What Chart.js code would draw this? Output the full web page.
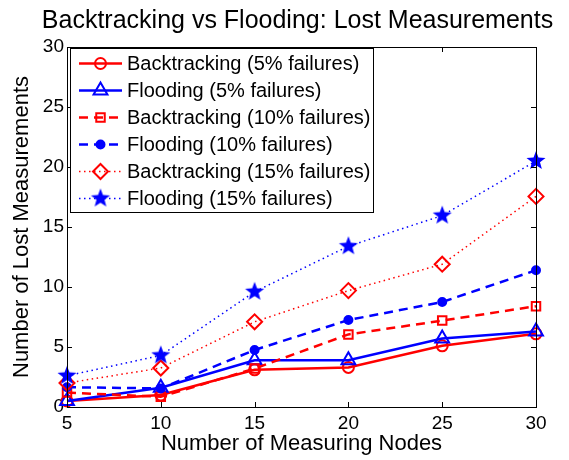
<!DOCTYPE html>
<html>
<head>
<meta charset="utf-8">
<title>Backtracking vs Flooding: Lost Measurements</title>
<script src="https://cdn.jsdelivr.net/npm/chart.js@4.4.1/dist/chart.umd.min.js"></script>
<style>
    html, body { margin: 0; padding: 0; background: #fff; }
    #wrap { width: 569px; height: 460px; }
</style>
</head>
<body>
<div id="wrap"><canvas id="lostChart" width="569" height="460"></canvas></div>
<script>
// chart data
const chartTitle = 'Backtracking vs Flooding: Lost Measurements';
const nodes = [5, 10, 15, 20, 25, 30];
const yTicks = [0, 5, 10, 15, 20, 25, 30];
const seriesNames = [
    'Backtracking (5% failures)',
    'Flooding (5% failures)',
    'Backtracking (10% failures)',
    'Flooding (10% failures)',
    'Backtracking (15% failures)',
    'Flooding (15% failures)',
];
const backtrack5 = [0.5, 1.0, 3.1, 3.3, 5.1, 6.1];
const flood5 = [0.5, 1.6, 3.9, 3.9, 5.7, 6.3];
const backtrack10 = [1.2, 0.85, 3.2, 6.05, 7.2, 8.4];
const flood10 = [1.65, 1.55, 4.75, 7.25, 8.75, 11.4];
const backtrack15 = [2.0, 3.25, 7.1, 9.7, 11.9, 17.55];
const flood15 = [2.6, 4.3, 9.6, 13.4, 15.95, 20.5];

const RED = '#ff0000';
const BLUE = '#0000ff';
const FONT = '"Liberation Sans", Arial, Helvetica, sans-serif';

// filled five-point star marker
function makeStar(r) {
    const size = Math.ceil(r * 2 + 2);
    const c = document.createElement('canvas');
    c.width = size;
    c.height = size;
    const g = c.getContext('2d');
    g.fillStyle = BLUE;
    g.beginPath();
    for (let i = 0; i < 10; i++) {
        const rad = i % 2 === 0 ? r : r * 0.42;
        const a = -Math.PI / 2 + (i * Math.PI) / 5;
        g.lineTo(size / 2 + rad * Math.cos(a), size / 2 + rad * Math.sin(a));
    }
    g.closePath();
    g.fill();
    return c;
}
const starImg = makeStar(10);

function toPoints(values) {
    return values.map((v, i) => ({ x: nodes[i], y: v }));
}

function series(idx, values, color, dash, width, style, radius, fill) {
    return {
        label: seriesNames[idx],
        data: toPoints(values),
        borderColor: color,
        borderWidth: width,
        borderDash: dash,
        pointStyle: style,
        pointRadius: radius,
        pointHoverRadius: radius,
        pointBorderColor: color,
        pointBackgroundColor: fill ? color : 'rgba(0,0,0,0)',
        pointBorderWidth: 2,
        tension: 0,
        fill: false,
        clip: false,
        order: 6 - idx,
    };
}

const datasets = [
    series(0, backtrack5, RED, [], 2.5, 'circle', 5.5, false),
    series(1, flood5, BLUE, [], 2.5, 'triangle', 8, false),
    series(2, backtrack10, RED, [9, 6], 2.5, 'rect', 6, false),
    series(3, flood10, BLUE, [9, 6], 2.5, 'circle', 4, true),
    series(4, backtrack15, RED, [1.5, 3.5], 1.5, 'rectRot', 7.5, false),
    series(5, flood15, BLUE, [1.5, 3.5], 1.5, starImg, 10, true),
];

// marker drawing for the legend
function drawMarker(ctx, ds, x, y) {
    const r = ds.pointRadius;
    ctx.save();
    ctx.setLineDash([]);
    ctx.lineWidth = ds.pointBorderWidth;
    ctx.strokeStyle = ds.pointBorderColor;
    ctx.fillStyle = ds.pointBackgroundColor;
    const s = ds.pointStyle;
    if (s instanceof HTMLCanvasElement) {
        ctx.drawImage(s, x - s.width / 2, y - s.height / 2);
        ctx.restore();
        return;
    }
    ctx.beginPath();
    if (s === 'circle') {
        ctx.arc(x, y, r, 0, Math.PI * 2);
    } else if (s === 'triangle') {
        for (let i = 0; i < 3; i++) {
            const a = (i * 2 * Math.PI) / 3;
            ctx.lineTo(x + Math.sin(a) * r, y - Math.cos(a) * r);
        }
        ctx.closePath();
    } else if (s === 'rect') {
        const h = Math.SQRT1_2 * r;
        ctx.rect(x - h, y - h, 2 * h, 2 * h);
    } else if (s === 'rectRot') {
        ctx.moveTo(x, y - r);
        ctx.lineTo(x + r, y);
        ctx.lineTo(x, y + r);
        ctx.lineTo(x - r, y);
        ctx.closePath();
    }
    ctx.fill();
    ctx.stroke();
    ctx.restore();
}

// axes box with inward ticks, title over the plot area, legend inside
const boxPlugin = {
    id: 'matlabBox',
    afterDatasetsDraw(chart) {
        const { ctx, chartArea: a, scales } = chart;
        ctx.save();
        ctx.strokeStyle = '#000';
        ctx.lineWidth = 1;
        ctx.setLineDash([]);
        ctx.strokeRect(a.left + 0.5, a.top + 0.5, a.right - a.left, a.bottom - a.top);
        const tl = 5;
        ctx.beginPath();
        nodes.forEach((v) => {
            const px = Math.round(scales.x.getPixelForValue(v)) + 0.5;
            ctx.moveTo(px, a.bottom);
            ctx.lineTo(px, a.bottom - tl);
            ctx.moveTo(px, a.top);
            ctx.lineTo(px, a.top + tl);
        });
        yTicks.forEach((v) => {
            const py = Math.round(scales.y.getPixelForValue(v)) + 0.5;
            ctx.moveTo(a.left, py);
            ctx.lineTo(a.left + tl, py);
            ctx.moveTo(a.right, py);
            ctx.lineTo(a.right - tl, py);
        });
        ctx.stroke();

        // title
        ctx.fillStyle = '#000';
        ctx.font = '25px ' + FONT;
        ctx.textAlign = 'center';
        ctx.textBaseline = 'middle';
        ctx.fillText(chartTitle, (a.left + a.right) / 2 - 4, 21);
        ctx.restore();
    },
    afterDraw(chart) {
        const { ctx, chartArea: a } = chart;
        const left = a.left + 3;
        const top = a.top + 1;
        const w = 303;
        const h = 164;
        ctx.save();
        ctx.fillStyle = '#fff';
        ctx.fillRect(left, top, w, h);
        ctx.strokeStyle = '#000';
        ctx.lineWidth = 1;
        ctx.strokeRect(left + 0.5, top + 0.5, w, h);
        chart.data.datasets.forEach((ds, i) => {
            const y = top + 15.5 + i * 27;
            ctx.save();
            ctx.strokeStyle = ds.borderColor;
            ctx.lineWidth = ds.borderWidth;
            ctx.setLineDash(ds.borderDash);
            ctx.beginPath();
            ctx.moveTo(left + 9, y);
            ctx.lineTo(left + 52, y);
            ctx.stroke();
            ctx.restore();
            drawMarker(ctx, ds, left + 30.5, y);
            ctx.fillStyle = '#000';
            ctx.font = '20px ' + FONT;
            ctx.textBaseline = 'middle';
            ctx.textAlign = 'left';
            ctx.fillText(ds.label, left + 57, y + 1);
        });
        ctx.restore();
    },
};

new Chart(document.getElementById('lostChart'), {
    type: 'line',
    data: { datasets },
    plugins: [boxPlugin],
    options: {
        responsive: false,
        animation: false,
        events: [],
        layout: {
            padding: { left: 0, right: 33, top: 47, bottom: 0 },
        },
        plugins: {
            legend: { display: false },
            tooltip: { enabled: false },
            title: { display: false },
        },
        scales: {
            x: {
                type: 'linear',
                min: 5,
                max: 30,
                afterFit(scale) {
                    scale.height = 53;
                },
                afterBuildTicks(scale) {
                    scale.ticks = nodes.map((v) => ({ value: v }));
                },
                grid: { display: false, drawTicks: false },
                border: { display: false },
                ticks: {
                    color: '#000',
                    padding: 5,
                    maxRotation: 0,
                    font: { family: FONT, size: 19 },
                },
                title: {
                    display: true,
                    text: 'Number of Measuring Nodes',
                    color: '#000',
                    font: { family: FONT, size: 22 },
                    padding: { top: 0, bottom: 3 },
                },
            },
            y: {
                type: 'linear',
                min: 0,
                max: 30,
                afterFit(scale) {
                    scale.width = 67;
                },
                afterBuildTicks(scale) {
                    scale.ticks = yTicks.map((v) => ({ value: v }));
                },
                grid: { display: false, drawTicks: false },
                border: { display: false },
                ticks: {
                    color: '#000',
                    padding: 3,
                    font: { family: FONT, size: 19 },
                },
                title: {
                    display: true,
                    text: 'Number of Lost Measurements',
                    color: '#000',
                    font: { family: FONT, size: 22 },
                    padding: { top: 9, bottom: 0 },
                },
            },
        },
    },
});
</script>
</body>
</html>
